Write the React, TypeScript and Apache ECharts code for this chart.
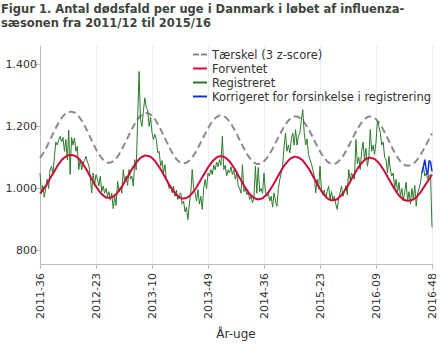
import { useEffect, useRef } from "react";
import * as echarts from "echarts";

// ISO year, first week, last week
const YEAR_WEEKS: [number, number, number][] = [
  [2011, 36, 52],
  [2012, 1, 52],
  [2013, 1, 52],
  [2014, 1, 52],
  [2015, 1, 53],
  [2016, 1, 48],
];
const weeks: string[] = [];
for (const [y, a, b] of YEAR_WEEKS) {
  for (let w = a; w <= b; w++) weeks.push(`${y}-${String(w).padStart(2, "0")}`);
}

const Y_TICKS = [800, 1000, 1200, 1400];

const threshold = [
  1099, 1105, 1112, 1120, 1128, 1137, 1147, 1156, 1166, 1176, 1185, 1195, 1204, 1212, 1220, 1227, 1233, 1238, 1242, 1245, 1246, 1247,
  1247, 1246, 1245, 1242, 1238, 1232, 1226, 1219, 1212, 1203, 1194, 1185, 1175, 1165, 1155, 1145, 1136, 1127, 1118, 1111, 1104, 1098, 1092, 1088, 1085, 1083, 1083,
  1084, 1085, 1088, 1092, 1097, 1103, 1110, 1118, 1126, 1135, 1144, 1153, 1163, 1173, 1182, 1191, 1200, 1208, 1216, 1223, 1229, 1234, 1238, 1241, 1243, 1243,
  1242, 1241, 1238, 1234, 1229, 1223, 1216, 1208, 1200, 1191, 1181, 1172, 1162, 1152, 1143, 1133, 1124, 1116, 1108, 1101, 1095, 1090, 1086, 1083, 1081, 1081,
  1082, 1083, 1086, 1090, 1095, 1100, 1107, 1114, 1122, 1131, 1140, 1149, 1158, 1167, 1176, 1185, 1193, 1201, 1209, 1215, 1221, 1226, 1230, 1233, 1235, 1235,
  1234, 1233, 1230, 1226, 1221, 1215, 1209, 1201, 1193, 1185, 1176, 1166, 1157, 1148, 1139, 1130, 1121, 1113, 1105, 1099, 1093, 1088, 1084, 1081, 1079, 1079,
  1080, 1081, 1084, 1088, 1093, 1098, 1105, 1112, 1120, 1128, 1137, 1146, 1156, 1165, 1174, 1183, 1191, 1199, 1206, 1213, 1219, 1223, 1227, 1230, 1232, 1232,
  1232, 1230, 1227, 1223, 1219, 1213, 1206, 1199, 1191, 1183, 1174, 1165, 1156, 1146, 1137, 1128, 1120, 1112, 1105, 1098, 1093, 1088, 1084, 1081, 1080, 1079,
  1080, 1081, 1084, 1088, 1093, 1098, 1105, 1112, 1120, 1128, 1137, 1146, 1156, 1165, 1174, 1183, 1191, 1199, 1206, 1213, 1219, 1223, 1227, 1230, 1232, 1232,
  1231, 1230, 1227, 1223, 1218, 1212, 1205, 1198, 1190, 1181, 1172, 1162, 1153, 1144, 1134, 1124, 1116, 1108, 1100, 1094, 1087, 1083, 1079, 1076, 1074, 1074,
  1074, 1075, 1077, 1080, 1084, 1089, 1095, 1102, 1109, 1117, 1125, 1133, 1142, 1151, 1160, 1169, 1177,
];

const expected = [
  984, 989, 995, 1001, 1008, 1016, 1024, 1032, 1040, 1048, 1056, 1064, 1072, 1079, 1085, 1091, 1096, 1100, 1103, 1106, 1107, 1108,
  1108, 1107, 1106, 1104, 1100, 1096, 1091, 1085, 1078, 1071, 1064, 1056, 1047, 1039, 1031, 1023, 1014, 1007, 1000, 993, 987, 982, 978, 974, 972, 970, 970,
  971, 972, 974, 978, 982, 987, 993, 999, 1006, 1014, 1022, 1030, 1038, 1046, 1054, 1062, 1070, 1076, 1083, 1089, 1094, 1098, 1102, 1104, 1106, 1106,
  1105, 1104, 1102, 1098, 1094, 1089, 1083, 1076, 1069, 1062, 1054, 1045, 1037, 1029, 1021, 1012, 1005, 998, 991, 985, 980, 976, 972, 970, 968, 968,
  969, 970, 972, 976, 980, 985, 991, 997, 1004, 1012, 1020, 1028, 1036, 1044, 1052, 1060, 1068, 1074, 1081, 1087, 1092, 1096, 1100, 1102, 1104, 1104,
  1103, 1102, 1100, 1096, 1092, 1087, 1081, 1074, 1067, 1060, 1052, 1043, 1035, 1027, 1019, 1010, 1003, 996, 989, 983, 978, 974, 970, 968, 966, 965,
  966, 967, 969, 973, 977, 982, 988, 994, 1002, 1009, 1017, 1025, 1034, 1042, 1050, 1058, 1066, 1073, 1079, 1085, 1090, 1095, 1098, 1100, 1102, 1102,
  1101, 1100, 1097, 1094, 1090, 1084, 1078, 1072, 1065, 1057, 1049, 1040, 1032, 1024, 1015, 1007, 999, 992, 985, 979, 974, 969, 966, 964, 962, 962,
  963, 964, 966, 970, 974, 979, 985, 992, 999, 1006, 1014, 1022, 1031, 1039, 1047, 1055, 1063, 1070, 1076, 1082, 1087, 1092, 1095, 1097, 1099, 1099,
  1098, 1097, 1095, 1091, 1087, 1082, 1076, 1069, 1062, 1055, 1047, 1038, 1030, 1022, 1014, 1005, 998, 991, 984, 978, 973, 969, 965, 963, 961, 961,
  961, 962, 963, 965, 968, 972, 977, 982, 988, 995, 1002, 1009, 1016, 1023, 1030, 1038, 1045,
];

const registered = [
  1050, 985, 1010, 972, 1000, 1030, 1000, 1060, 1072, 1045,
  1100, 1150, 1140, 1155, 1168, 1150, 1165, 1120, 1158, 1093,
  1188, 1045, 1165, 1140, 1163, 1120, 1136, 1061, 1093, 1060,
  1080, 1090, 1104, 1085, 1075, 1040, 986, 1050, 1010, 1045,
  1030, 1008, 1040, 990, 1008, 985, 1000, 975, 990, 962,
  985, 935, 975, 945, 1024, 990, 1005, 985, 1061, 1020,
  1040, 1010, 1061, 1030, 1040, 1008, 1093, 1060, 1222, 1377,
  1222, 1200, 1250, 1292, 1260, 1254, 1200, 1230, 1180, 1158,
  1175, 1158, 1115, 1120, 1072, 1090, 1050, 1077, 1029, 1018,
  1000, 1010, 986, 1008, 975, 995, 965, 980, 986, 950,
  960, 925, 940, 900, 950, 985, 1061, 1000, 986, 960,
  997, 950, 975, 933, 1000, 1029, 1000, 1050, 1040, 1061,
  1045, 1075, 1060, 1085, 1070, 1093, 1075, 1168, 1061, 1075,
  1040, 1060, 1050, 1070, 1045, 1060, 1030, 1050, 1010, 1000,
  985, 1077, 990, 1000, 980, 990, 965, 975, 954, 970,
  1072, 985, 1068, 990, 1000, 985, 1050, 990, 975, 985,
  960, 975, 940, 986, 960, 943, 1000, 1029, 1050, 1072,
  1136, 1179, 1120, 1140, 1115, 1160, 1179, 1140, 1190, 1140,
  1170, 1180, 1220, 1254, 1180, 1140, 1160, 1110, 1093, 1080,
  1061, 1040, 986, 1030, 1000, 1072, 1000, 980, 995, 970,
  990, 1008, 965, 990, 960, 975, 950, 933, 970, 986,
  1008, 975, 990, 1010, 980, 1061, 1029, 1050, 1040, 1030,
  1158, 1080, 1100, 1061, 1120, 1150, 1093, 1130, 1072, 1100,
  1190, 1120, 1140, 1110, 1150, 1217, 1200, 1180, 1140, 1150,
  1100, 1093, 1050, 1104, 1060, 1040, 1050, 1000, 1030, 990,
  1020, 975, 1000, 960, 990, 1020, 960, 990, 950, 1000,
  965, 1010, 943, 985, 1000, 1020, 1050, 1072, 1040, 1050,
  1030, 1045, 1040, 875,
];

// corrected for registration delay: last weeks only
const correctedStart = "2016-41";
const correctedValues = [1050, 1070, 1093, 1060, 1045, 1090, 1085, 1055];

const SERIES_NAMES = [
  "Tærskel (3 z-score)",
  "Forventet",
  "Registreret",
  "Korrigeret for forsinkelse i registrering",
];

const COLORS = ["#8a8a8a", "#cc0a3c", "#2b7a2b", "#1030e0"];

const ICON_SOLID = "path://M0,0h14v2h-14z";
const ICON_DASH = "path://M0,0h6v2h-6z M8,0h6v2h-6z";

const fmtY = (v: number) =>
  v >= 1000 ? `${Math.floor(v / 1000)}.${String(v % 1000).padStart(3, "0")}` : String(v);

export default function App() {
  const ref = useRef<HTMLDivElement>(null);
  useEffect(() => {
    if (!ref.current) return;
    const chart = echarts.init(ref.current, undefined, { renderer: "svg" });
    const startIdx = weeks.indexOf(correctedStart);
    const corrected = weeks.map((_, i) =>
      i >= startIdx && i - startIdx < correctedValues.length ? correctedValues[i - startIdx] : null
    );
    const font = "DejaVu Sans";
    chart.setOption({
      animation: false,
      textStyle: { fontFamily: font },
      title: {
        text: "Figur 1. Antal dødsfald per uge i Danmark i løbet af influenza-\nsæsonen fra 2011/12 til 2015/16",
        left: 1,
        top: 2,
        padding: 0,
        textStyle: {
          fontFamily: font,
          fontSize: 11.5,
          fontWeight: "bold",
          color: "#3d463d",
          lineHeight: 14,
        },
      },
      legend: {
        orient: "vertical",
        left: 193,
        top: 48,
        padding: 0,
        itemWidth: 14,
        itemHeight: 2,
        itemGap: 1,
        data: SERIES_NAMES.map((n, i) => ({
          name: n,
          icon: i === 0 ? ICON_DASH : ICON_SOLID,
          itemStyle: { color: COLORS[i] },
        })),
        textStyle: { fontFamily: font, fontSize: 11.5, color: "#333", lineHeight: 13 },
      },
      grid: { left: 40, right: 8, top: 46, bottom: 82, containLabel: false },
      xAxis: {
        type: "category",
        data: weeks,
        boundaryGap: false,
        name: "År-uge",
        nameLocation: "middle",
        nameGap: 64,
        nameTextStyle: { fontFamily: font, fontSize: 12, color: "#333" },
        axisLine: { lineStyle: { color: "#bdbdbd", width: 1 } },
        axisTick: { interval: 38, length: 5, lineStyle: { color: "#bdbdbd" } },
        axisLabel: {
          interval: 38,
          rotate: 90,
          margin: 9,
          fontFamily: font,
          fontSize: 11,
          color: "#333",
        },
        splitLine: { show: true, interval: 38, lineStyle: { color: "#e4eef0", width: 1 } },
      },
      yAxis: {
        type: "value",
        min: 757,
        max: 1459,
        axisLine: { show: true, lineStyle: { color: "#bdbdbd", width: 1 } },
        axisTick: { show: true, length: 6, customValues: Y_TICKS, lineStyle: { color: "#bdbdbd" } },
        axisLabel: {
          customValues: Y_TICKS,
          formatter: fmtY,
          margin: 3,
          fontFamily: font,
          fontSize: 11,
          color: "#333",
        },
        splitLine: { show: false },
      },
      series: [
        {
          name: SERIES_NAMES[0],
          type: "line",
          data: threshold,
          symbol: "none",
          z: 2,
          lineStyle: { color: COLORS[0], width: 2, type: [7, 4] },
          itemStyle: { color: COLORS[0] },
        },
        {
          name: SERIES_NAMES[1],
          type: "line",
          data: expected,
          symbol: "none",
          z: 4,
          lineStyle: { color: COLORS[1], width: 2 },
          itemStyle: { color: COLORS[1] },
        },
        {
          name: SERIES_NAMES[2],
          type: "line",
          data: registered,
          symbol: "none",
          z: 3,
          lineStyle: { color: COLORS[2], width: 1 },
          itemStyle: { color: COLORS[2] },
        },
        {
          name: SERIES_NAMES[3],
          type: "line",
          data: corrected,
          symbol: "none",
          z: 5,
          lineStyle: { color: COLORS[3], width: 1.5 },
          itemStyle: { color: COLORS[3] },
        },
      ],
    });
    return () => chart.dispose();
  }, []);
  return (
    <div
      ref={ref}
      style={{ position: "absolute", left: 0, top: 0, width: 440, height: 346 }}
    />
  );
}
